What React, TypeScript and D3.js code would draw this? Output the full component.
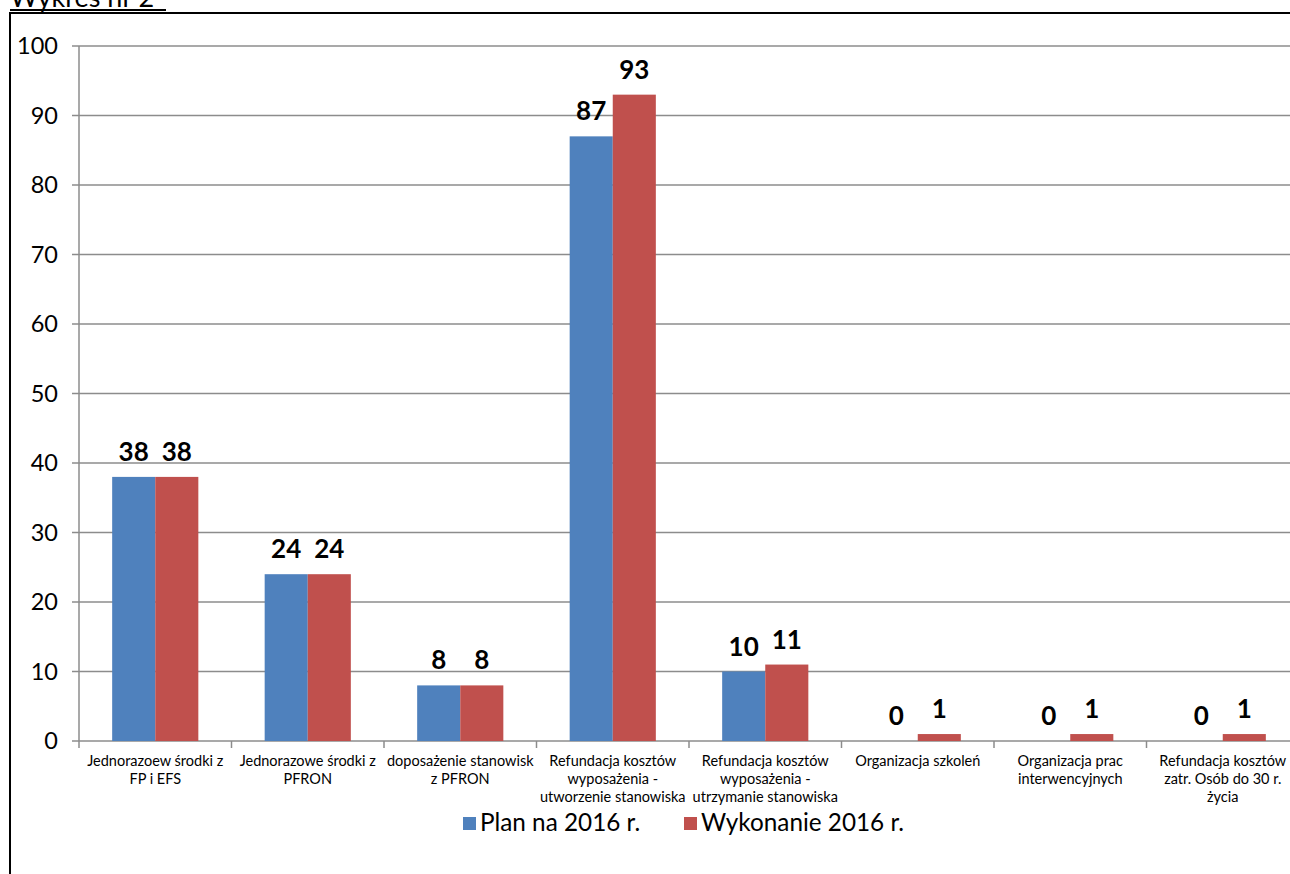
import React from "react";
import * as d3 from "d3";

const categories: string[][] = [
  ["Jednorazoew środki z", "FP i EFS"],
  ["Jednorazowe środki z", "PFRON"],
  ["doposażenie stanowisk", "z PFRON"],
  ["Refundacja kosztów", "wyposażenia -", "utworzenie stanowiska"],
  ["Refundacja kosztów", "wyposażenia -", "utrzymanie stanowiska"],
  ["Organizacja szkoleń"],
  ["Organizacja prac", "interwencyjnych"],
  ["Refundacja kosztów", "zatr. Osób do 30 r.", "życia"],
];
const plan = [38, 24, 8, 87, 10, 0, 0, 0];
const wykonanie = [38, 24, 8, 93, 11, 1, 1, 1];
const seriesNames = ["Plan na 2016 r.", "Wykonanie 2016 r."];
const colors = ["#4F81BD", "#C0504D"];
const yTicks = [0, 10, 20, 30, 40, 50, 60, 70, 80, 90, 100];

const font = "Lato, 'Open Sans', sans-serif";

const App: React.FC = () => {
  const left = 79;
  const step = 152.5;
  const x = d3
    .scaleBand<number>()
    .domain(categories.map((_, i) => i))
    .range([left, left + step * categories.length])
    .paddingInner(0.435)
    .paddingOuter(0.2175);
  const y = d3.scaleLinear().domain([0, 100]).range([741, 46]);
  const bw = x.bandwidth() / 2;
  const series = [plan, wykonanie];

  return (
    <svg
      width={1290}
      height={874}
      style={{ position: "absolute", left: 0, top: 0, background: "#fff" }}
    >
      {/* title, mostly cut off at the top of the page */}
      <text x={10} y={7} fontFamily={font} fontSize={27} fill="#000">
        Wykres nr 2
      </text>
      <line x1={10} x2={166} y1={10} y2={10} stroke="#000" strokeWidth={2} />
      <line x1={9} x2={1290} y1={13} y2={13} stroke="#000" strokeWidth={2} />
      <line x1={10} x2={10} y1={12} y2={874} stroke="#000" strokeWidth={2} />

      {yTicks.map((t) => (
        <g key={t}>
          <line
            x1={72}
            x2={1300}
            y1={y(t)}
            y2={y(t)}
            stroke="#8c8c8c"
            strokeWidth={1.5}
          />
          <text
            x={58}
            y={y(t)}
            dy="0.36em"
            textAnchor="end"
            fontFamily={font}
            fontSize={23.5}
            fill="#000"
          >
            {t}
          </text>
        </g>
      ))}
      <line x1={left} x2={left} y1={y(100)} y2={y(0) + 7} stroke="#8c8c8c" strokeWidth={1.5} />
      {categories.map((_, i) => (
        <line
          key={i}
          x1={left + step * (i + 1)}
          x2={left + step * (i + 1)}
          y1={y(0)}
          y2={y(0) + 7}
          stroke="#8c8c8c"
          strokeWidth={1.5}
        />
      ))}

      {series.map((vals, s) =>
        vals.map((v, i) => (
          <g key={`${s}-${i}`}>
            <rect
              x={(x(i) as number) + s * bw}
              y={y(v)}
              width={bw}
              height={y(0) - y(v)}
              fill={colors[s]}
            />
            <text
              x={(x(i) as number) + s * bw + bw / 2}
              y={y(v) - 16}
              textAnchor="middle"
              fontFamily={font}
              fontWeight="bold"
              fontSize={26}
              fill="#000"
            >
              {v}
            </text>
          </g>
        ))
      )}

      {categories.map((lines, i) => (
        <text
          key={i}
          x={(x(i) as number) + x.bandwidth() / 2}
          y={766}
          textAnchor="middle"
          fontFamily={font}
          fontSize={14.5}
          fill="#000"
        >
          {lines.map((l, j) => (
            <tspan key={j} x={(x(i) as number) + x.bandwidth() / 2} dy={j === 0 ? 0 : 18}>
              {l}
            </tspan>
          ))}
        </text>
      ))}

      <g fontFamily={font} fontSize={24.3} fill="#000">
        <rect x={463} y={817} width={13} height={13} fill={colors[0]} />
        <text x={480} y={831}>{seriesNames[0]}</text>
        <rect x={684} y={817} width={13} height={13} fill={colors[1]} />
        <text x={701} y={831}>{seriesNames[1]}</text>
      </g>
    </svg>
  );
};

export default App;
